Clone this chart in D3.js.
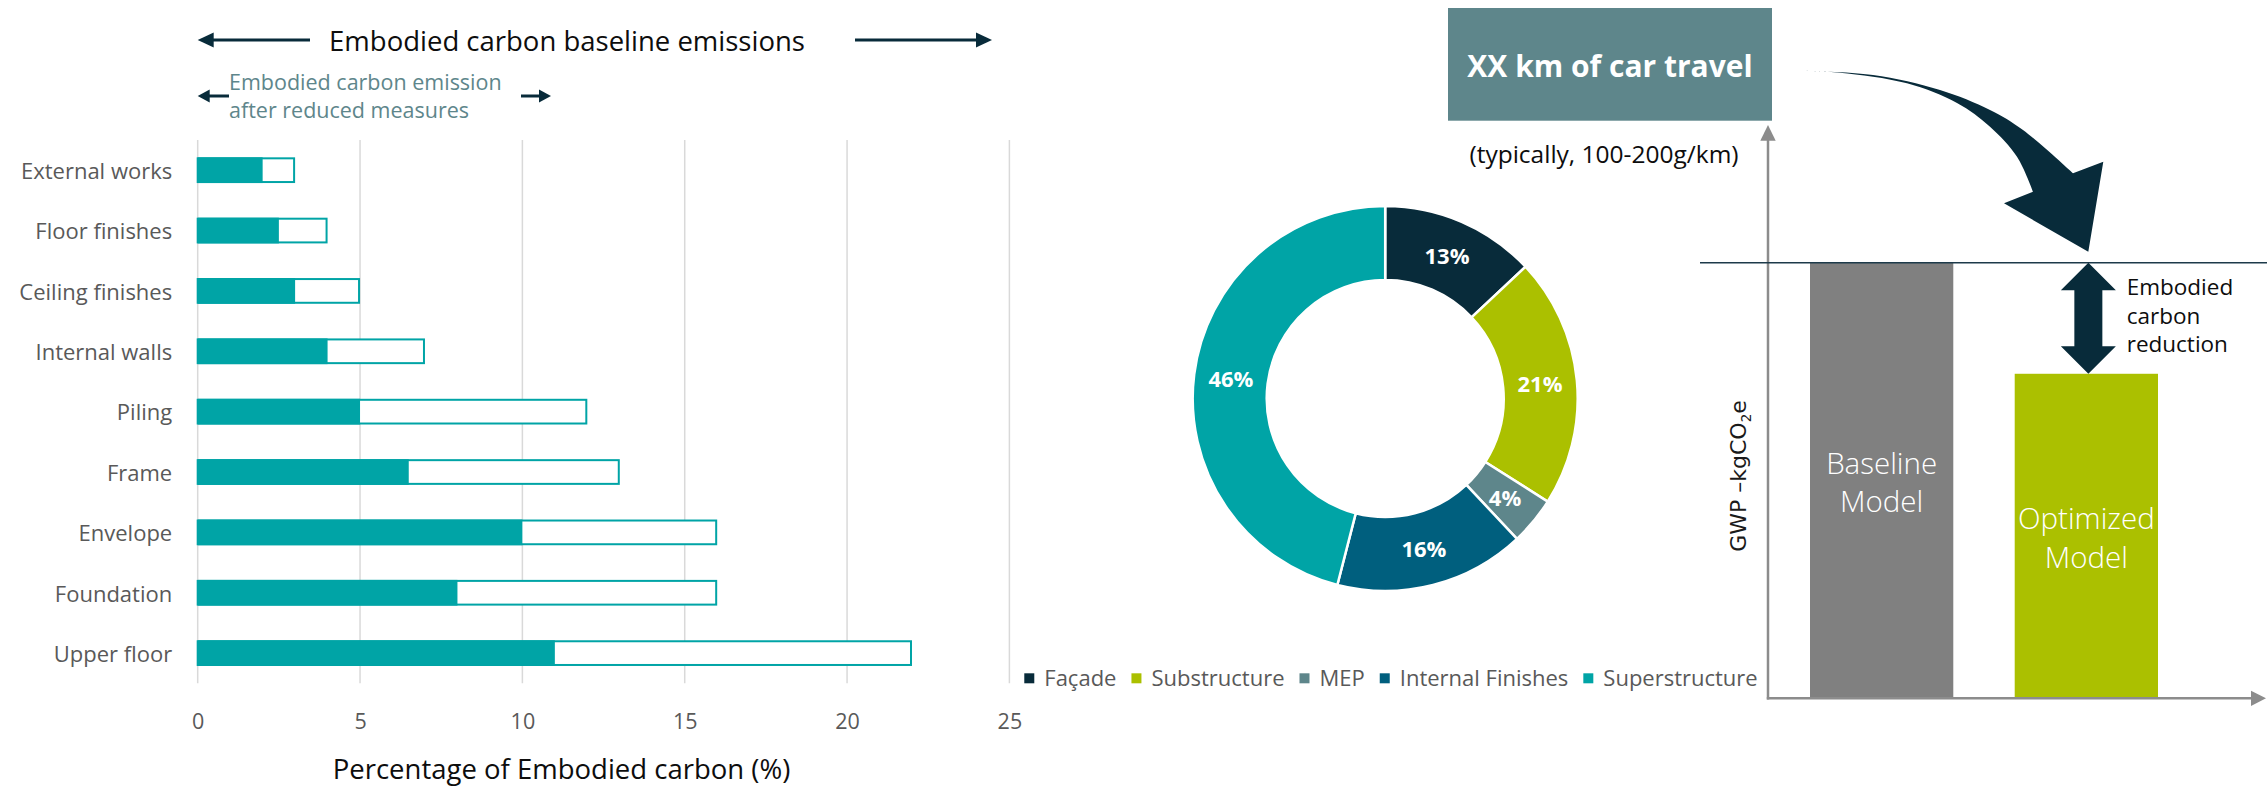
<!DOCTYPE html>
<html>
<head>
<meta charset="utf-8">
<script src="https://cdn.jsdelivr.net/npm/d3@7"></script>
<style>
  html, body { margin: 0; padding: 0; background: #fff; }
  svg { display: block; }
  text { font-family: "Open Sans", "Noto Sans", sans-serif; }
</style>
</head>
<body>
<svg id="chart" width="2267" height="789"></svg>
<script>
// ---- Building elements: share of embodied carbon (%) ----
const elements = ["External works", "Floor finishes", "Ceiling finishes", "Internal walls",
                  "Piling", "Frame", "Envelope", "Foundation", "Upper floor"];
const reducedValues  = [2, 2.5, 3, 4, 5, 6.5, 10, 8, 11];
const baselineValues = [3, 4, 5, 7, 12, 13, 16, 16, 22];
const xTicks = [0, 5, 10, 15, 20, 25];

// ---- Breakdown by building group (%) ----
const groups = ["Façade", "Substructure", "MEP", "Internal Finishes", "Superstructure"];
const groupShares = [13, 21, 4, 16, 46];
const groupColors = ["#082B3A", "#ABC000", "#5E868B", "#005F7E", "#00A4A6"];

// ---- Baseline vs optimized model (relative GWP) ----
const models = ["Baseline Model", "Optimized Model"];
const modelValues = [100, 74.5];
const modelColors = ["#808080", "#ABC000"];
const modelLines = [["Baseline", "Model"], ["Optimized", "Model"]];

const TEAL = "#00A4A6", NAVY = "#082B3A", GREY_TXT = "#595959", SLATE = "#5E868B";
const svg = d3.select("#chart");

// horizontal arrow with a filled triangular head at (xTip, y)
function hArrow(g, xFrom, xTip, y, headLen, headHalf, sw) {
  const dir = Math.sign(xTip - xFrom);
  g.append("line")
    .attr("x1", xFrom).attr("x2", xTip - dir * headLen * 0.9)
    .attr("y1", y).attr("y2", y)
    .attr("stroke", NAVY).attr("stroke-width", sw);
  g.append("path")
    .attr("d", `M${xTip},${y} L${xTip - dir * headLen},${y - headHalf} L${xTip - dir * headLen},${y + headHalf} Z`)
    .attr("fill", NAVY);
}

// ================= Left: horizontal bar chart =================
const x = d3.scaleLinear().domain([0, 25]).range([197.7, 1009.4]);
const y = d3.scaleBand().domain(elements).range([140, 683.3])
  .paddingInner(0.574).paddingOuter(0.287);
const left = svg.append("g");

left.selectAll("line.grid").data(xTicks).join("line")
  .attr("class", "grid")
  .attr("x1", d => x(d)).attr("x2", d => x(d))
  .attr("y1", 140).attr("y2", 683.3)
  .attr("stroke", "#d9d9d9").attr("stroke-width", 1.5);

const xAxis = left.append("g")
  .attr("transform", "translate(0,683.3)")
  .call(d3.axisBottom(x).tickValues(xTicks).tickSize(0).tickPadding(30));
xAxis.select(".domain").remove();
xAxis.selectAll("text")
  .attr("fill", GREY_TXT).style("font-size", "21.5px")
  .style("font-family", "'Open Sans', sans-serif");

const yAxis = left.append("g")
  .attr("transform", `translate(${x(0)},0)`)
  .call(d3.axisLeft(y).tickSize(0).tickPadding(25.5));
yAxis.select(".domain").remove();
yAxis.selectAll("text")
  .attr("fill", GREY_TXT).attr("dy", "0.4em").style("font-size", "22px")
  .style("font-family", "'Open Sans', sans-serif");

const bh = y.bandwidth();
left.selectAll("rect.total").data(elements).join("rect")
  .attr("class", "total")
  .attr("x", x(0)).attr("y", d => y(d) + 1)
  .attr("width", (d, i) => x(baselineValues[i]) - x(0) - 1)
  .attr("height", bh - 2)
  .attr("fill", "#fff").attr("stroke", TEAL).attr("stroke-width", 2);

left.selectAll("rect.reduced").data(elements).join("rect")
  .attr("class", "reduced")
  .attr("x", x(0)).attr("y", d => y(d))
  .attr("width", (d, i) => x(reducedValues[i]) - x(0))
  .attr("height", bh)
  .attr("fill", TEAL);

// headings and arrows
left.append("text")
  .attr("x", 567).attr("y", 50.7).attr("text-anchor", "middle")
  .attr("fill", "#0d0d0d").style("font-size", "27.5px")
  .text("Embodied carbon baseline emissions");
hArrow(left, 310, x(0), 40, 16, 7.5, 3);
hArrow(left, 855, 992, 40, 16, 7.5, 3);

const sub = left.append("text").attr("fill", SLATE).style("font-size", "21.5px");
sub.append("tspan").attr("x", 229).attr("y", 90).text("Embodied carbon emission");
sub.append("tspan").attr("x", 229).attr("y", 118.3).text("after reduced measures");
hArrow(left, 229, x(0), 96, 12, 6.5, 3);
hArrow(left, 521, 551, 96, 12, 6.5, 3);

left.append("text")
  .attr("x", 561.5).attr("y", 779).attr("text-anchor", "middle")
  .attr("fill", "#0d0d0d").style("font-size", "27.5px")
  .text("Percentage of Embodied carbon (%)");

// ================= Middle: donut =================
const pie = d3.pie().sort(null).value(d => d)(groupShares);
const arc = d3.arc().innerRadius(118.5).outerRadius(192.5);
const labelArc = d3.arc().innerRadius(155.5).outerRadius(155.5);
const donut = svg.append("g").attr("transform", "translate(1385.2,398.5)");

donut.selectAll("path").data(pie).join("path")
  .attr("d", arc)
  .attr("fill", (d, i) => groupColors[i])
  .attr("stroke", "#fff").attr("stroke-width", 2.5);

donut.selectAll("text").data(pie).join("text")
  .attr("transform", d => `translate(${labelArc.centroid(d)})`)
  .attr("text-anchor", "middle").attr("dy", "0.36em")
  .attr("fill", "#fff").style("font-size", "22px").style("font-weight", 700)
  .text((d, i) => groupShares[i] + "%");

// legend laid out left to right, centred under the donut
const legend = svg.append("g");
const items = legend.selectAll("g").data(groups).join("g");
items.append("rect")
  .attr("width", 10).attr("height", 10).attr("y", 673.3)
  .attr("fill", (d, i) => groupColors[i]);
items.append("text")
  .attr("x", 20).attr("y", 686)
  .attr("fill", GREY_TXT).style("font-size", "22px")
  .text(d => d);
let cursor = 0;
const offsets = [];
items.each(function () {
  offsets.push(cursor);
  const w = d3.select(this).select("text").node().getComputedTextLength();
  cursor += 20 + w + 15;
});
const legendW = cursor - 15;
const legendX0 = 1391 - legendW / 2;
items.attr("transform", (d, i) => `translate(${legendX0 + offsets[i]},0)`);

// ================= Right: baseline vs optimized =================
const xm = d3.scaleBand().domain(models).range([1810, 2158]).paddingInner(0.3).paddingOuter(0);
const ym = d3.scaleLinear().domain([0, 100]).range([698.3, 262.7]);
const right = svg.append("g");
const AXIS = "#8C8C8C";
const xAxisLeft = 1768;

right.selectAll("rect.model").data(models).join("rect")
  .attr("class", "model")
  .attr("x", d => xm(d)).attr("width", xm.bandwidth())
  .attr("y", (d, i) => ym(modelValues[i]))
  .attr("height", (d, i) => ym(0) - ym(modelValues[i]))
  .attr("fill", (d, i) => modelColors[i]);

// model labels, centred in each bar
models.forEach((m, i) => {
  const mid = (ym(modelValues[i]) + ym(0)) / 2;
  const t = right.append("text")
    .attr("text-anchor", "middle").attr("fill", "#fff")
    .style("font-size", "29.5px").style("font-weight", 300);
  modelLines[i].forEach((line, k) => {
    t.append("tspan")
      .attr("x", xm(m) + xm.bandwidth() / 2)
      .attr("y", mid - 7 + k * 38.5)
      .text(line);
  });
});

// axes with arrow heads
right.append("line")
  .attr("x1", xAxisLeft).attr("x2", xAxisLeft)
  .attr("y1", ym(0) + 1.2).attr("y2", 138)
  .attr("stroke", AXIS).attr("stroke-width", 2.5);
right.append("path")
  .attr("d", `M${xAxisLeft},125 L${xAxisLeft - 7.7},140.7 L${xAxisLeft + 7.7},140.7 Z`)
  .attr("fill", AXIS);
right.append("line")
  .attr("x1", xAxisLeft - 1.2).attr("x2", 2253)
  .attr("y1", ym(0)).attr("y2", ym(0))
  .attr("stroke", AXIS).attr("stroke-width", 2.5);
right.append("path")
  .attr("d", `M2266,${ym(0)} L2251,${ym(0) - 7.6} L2251,${ym(0) + 7.6} Z`)
  .attr("fill", AXIS);

// baseline reference line
right.append("line")
  .attr("x1", 1700).attr("x2", 2267)
  .attr("y1", ym(modelValues[0])).attr("y2", ym(modelValues[0]))
  .attr("stroke", "#1d3a4a").attr("stroke-width", 1.5);

// y-axis title
const gwp = right.append("text")
  .attr("transform", "translate(1746,476) rotate(-90)")
  .attr("text-anchor", "middle").attr("fill", "#1a1a1a")
  .style("font-family", "'DejaVu Sans', sans-serif").style("font-size", "22px");
gwp.append("tspan").text("GWP –kgCO");
gwp.append("tspan").attr("dy", 5).style("font-size", "13.5px").text("2");
gwp.append("tspan").attr("dy", -5).text("e");

// double-headed reduction arrow between the two bar tops
{
  const cx = xm(models[1]) + xm.bandwidth() / 2 + 2;
  const top = ym(modelValues[0]), bot = ym(modelValues[1]);
  const hw = 27.5, sw = 14, hl = 27.5;
  right.append("path")
    .attr("d", [
      `M${cx},${top}`,
      `L${cx + hw},${top + hl}`, `L${cx + sw},${top + hl}`,
      `L${cx + sw},${bot - hl}`, `L${cx + hw},${bot - hl}`,
      `L${cx},${bot}`,
      `L${cx - hw},${bot - hl}`, `L${cx - sw},${bot - hl}`,
      `L${cx - sw},${top + hl}`, `L${cx - hw},${top + hl}`, "Z"
    ].join(" "))
    .attr("fill", NAVY);
  const note = right.append("text").attr("fill", "#0d0d0d").style("font-size", "22.5px");
  ["Embodied", "carbon", "reduction"].forEach((w, k) => {
    note.append("tspan").attr("x", 2126.7).attr("y", 295 + k * 28.7).text(w);
  });
}

// car-travel equivalence box
right.append("rect")
  .attr("x", 1448).attr("y", 8).attr("width", 324).attr("height", 112.7)
  .attr("fill", SLATE);
right.append("text")
  .attr("x", 1610).attr("y", 77.3).attr("text-anchor", "middle")
  .attr("fill", "#fff").style("font-size", "30px").style("font-weight", 700)
  .text("XX km of car travel");
right.append("text")
  .attr("x", 1604).attr("y", 163.3).attr("text-anchor", "middle")
  .attr("fill", "#0d0d0d").style("font-size", "24.5px")
  .text("(typically, 100-200g/km)");

// curved block arrow from the box down to the optimized bar
{
  const upper = [[1802, 70.7], [1873, 75], [1940, 90], [1990, 110], [2023, 130], [2073, 173.3]];
  const lower = [[2033, 191.7], [2017, 156.7], [1990, 126.7], [1957, 103], [1907, 83.3], [1840, 72.7], [1802, 70.7]];
  const curve = d3.line().curve(d3.curveCatmullRom.alpha(0.5));
  const head = "L2103.3,161.7 L2088.3,251.7 L2004,203.3 L2033,191.7";
  const d = curve(upper) + " " + head + " " + curve(lower).replace(/^M/, "L") + " Z";
  right.append("path").attr("d", d).attr("fill", NAVY);
}
</script>
</body>
</html>
